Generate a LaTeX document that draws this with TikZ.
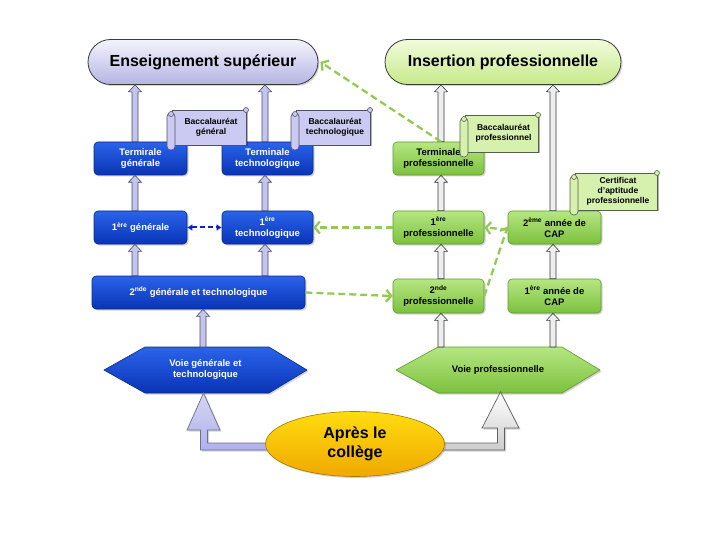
\documentclass[tikz,border=0pt]{standalone}
\usepackage{fontspec}
\setmainfont{Liberation Sans}
\usetikzlibrary{arrows.meta,shapes.misc,shapes.geometric,shadows,calc}
\definecolor{bluetop}{HTML}{2A63EA}
\definecolor{bluebot}{HTML}{0934B6}
\definecolor{blueedge}{HTML}{0A2C8C}
\definecolor{greentop}{HTML}{B6E682}
\definecolor{greenbot}{HTML}{7CC13E}
\definecolor{greenedge}{HTML}{5E9A2E}
\definecolor{lav}{HTML}{CACAF2}
\definecolor{lavdark}{HTML}{4A4A70}
\definecolor{lavfill}{HTML}{C4C4EC}
\definecolor{grayfill}{HTML}{EEEEEE}
\definecolor{graydark}{HTML}{3A3A3A}
\definecolor{scrgreen}{HTML}{D6F0AE}
\definecolor{gdash}{HTML}{94C954}
\definecolor{bdash}{HTML}{0A24C0}
\definecolor{yeltop}{HTML}{FFDC10}
\definecolor{yelbot}{HTML}{F0A800}
\definecolor{iptop}{HTML}{F2FBDC}
\definecolor{ipbot}{HTML}{C6EA8A}
\definecolor{estop}{HTML}{F4F4FC}
\definecolor{esbot}{HTML}{B4B4E4}
\tikzset{
  shad/.style={drop shadow={opacity=0.35, shadow xshift=1.5pt, shadow yshift=-1.5pt}},
  bbox/.style={shad, draw=blueedge, line width=0.6pt, rounded corners=4pt,
    top color=bluetop, bottom color=bluebot, text=white,
    font=\bfseries\fontsize{9.5}{11}\selectfont, align=center, inner sep=0pt},
  gbox/.style={shad, draw=greenedge, line width=0.6pt, rounded corners=4pt,
    top color=greentop, bottom color=greenbot, text=black,
    font=\bfseries\fontsize{9.5}{11}\selectfont, align=center, inner sep=0pt},
  headbox/.style={shad, rounded rectangle, draw=graydark, line width=0.8pt,
    font=\bfseries\fontsize{16}{19}\selectfont, inner sep=0pt},
  blkarrow/.style={line width=0.6pt, to path={let \p1=(\tikztostart), \p2=(\tikztotarget) in
    (\x1-3pt,\y1) -- (\x1-3pt,\y2-7pt) -- (\x1-6.5pt,\y2-7pt) -- (\x1,\y2)
    -- (\x1+6.5pt,\y2-7pt) -- (\x1+3pt,\y2-7pt) -- (\x1+3pt,\y1) -- cycle}},
  blkL/.style={blkarrow, draw=lavdark, fill=lavfill},
  blkR/.style={blkarrow, draw=graydark, fill=grayfill},
  gd/.style={draw=gdash, line width=2.3pt, dash pattern=on 7pt off 4pt,
    -{Straight Barb[length=5pt,width=12pt]}},
  scr/.style={line width=0.6pt},
  scrtext/.style={font=\bfseries\fontsize{8.5}{10}\selectfont, align=center, text=black},
}
\newcommand\myscroll[7]{%
  \fill[black,opacity=0.3] (#2+1.5,#3+1.5) rectangle (#4+1.5,#5+1.5);
  \draw[scr,draw=#6!40!black,fill=#6] (#2,#3) rectangle (#4,#5);
  \node[scrtext] (#1) at ({(#2+#4)/2+2},{(#3+#5)/2}) {#7};
  \draw[scr,draw=#6!40!black,fill=#6,rounded corners=3.5pt] (#2-5,#3+3) rectangle (#2+3,#5+5);
  \draw[scr,draw=#6!40!black,fill=#6] (#2-1,#3+4) circle (2.5pt);
  \draw[scr,draw=#6!40!black,fill=#6] (#4,#3) circle (2.5pt);
}
\begin{document}
\begin{tikzpicture}[x=1pt,y=-1pt]
\useasboundingbox[fill=white] (0,0) rectangle (720,540);
% column coordinates
\coordinate (cA) at (135,0);
\coordinate (cB) at (265,0);
\coordinate (cC) at (441,0);
\coordinate (cD) at (553,0);
\coordinate (vgtop) at (203,347);
\coordinate (vptopA) at (441,347);
\coordinate (vptopB) at (553,347);
% headers
\node[headbox, minimum width=230pt, minimum height=45pt, top color=estop, bottom color=esbot] (es) at (203,62) {Enseignement supérieur};
\node[headbox, minimum width=236pt, minimum height=45pt, top color=iptop, bottom color=ipbot] (ip) at (503,62) {Insertion professionnelle};
% boxes
\node[bbox, minimum width=93pt, minimum height=33pt] (tg) at (140.5,158.5) {Termirale\\générale};
\node[bbox, minimum width=91pt, minimum height=33pt] (tt) at (267.5,158.5) {Terminale\\technologique};
\node[bbox, minimum width=93pt, minimum height=33pt] (g1) at (140.5,227.5) {1\textsuperscript{ère} générale};
\node[bbox, minimum width=91pt, minimum height=33pt] (t1) at (267.5,227.5) {1\textsuperscript{ère}\\technologique};
\node[bbox, minimum width=213pt, minimum height=33pt] (g2) at (198.5,292.5) {2\textsuperscript{nde} générale et technologique};
\node[gbox, minimum width=91pt, minimum height=33pt] (tp) at (438.5,158.5) {Terminale\\professionnelle};
\node[gbox, minimum width=91pt, minimum height=33pt] (p1) at (438.5,227.5) {1\textsuperscript{ère}\\professionnelle};
\node[gbox, minimum width=93pt, minimum height=33pt] (cap2) at (554.5,227.5) {2\textsuperscript{ème} année de\\CAP};
\node[gbox, minimum width=91pt, minimum height=34pt] (p2) at (438.5,296) {2\textsuperscript{nde}\\professionnelle};
\node[gbox, minimum width=93pt, minimum height=34pt] (cap1) at (554.5,296) {1\textsuperscript{ère} année de\\CAP};
% hexagons
\path[shad, draw=blueedge, line width=0.6pt, top color=bluetop, bottom color=bluebot]
  (104,370) -- (145,347) -- (269,347) -- (307,370) -- (269,393) -- (145,393) -- cycle;
\node[text=white, font=\bfseries\fontsize{9.5}{11}\selectfont, align=center] (vg) at (205.5,370) {Voie générale et\\technologique};
\path[shad, draw=greenedge, line width=0.6pt, top color=greentop, bottom color=greenbot]
  (396,370) -- (438,347) -- (562,347) -- (600,370) -- (562,393) -- (438,393) -- cycle;
\node[text=black, font=\bfseries\fontsize{9.5}{11}\selectfont] (vp) at (498,370) {Voie professionnelle};
% block arrows
\draw[blkL] (tg.north -| cA) to (es.south);
\draw[blkL] (tt.north -| cB) to (es.south);
\draw[blkL] (g1.north -| cA) to (tg.south);
\draw[blkL] (t1.north -| cB) to (tt.south);
\draw[blkL] (g2.north -| cA) to (g1.south);
\draw[blkL] (g2.north -| cB) to (t1.south);
\draw[blkL] (vgtop) to (g2.south);
\draw[blkR] (tp.north -| cC) to (ip.south);
\draw[blkR] (p1.north -| cC) to (tp.south);
\draw[blkR] (p2.north -| cC) to (p1.south);
\draw[blkR] (vptopA) to (p2.south);
\draw[blkR] (cap2.north -| cD) to (ip.south);
\draw[blkR] (cap1.north -| cD) to (cap2.south);
\draw[blkR] (vptopB) to (cap1.south);
% scrolls
\myscroll{bg}{172}{110}{246}{145}{lav}{Baccalauréat\\général}
\myscroll{bt}{296}{110}{370}{145}{lav}{Baccalauréat\\technologique}
\myscroll{bp}{465}{115}{538}{152}{scrgreen}{Baccalauréat\\professionnel}
\myscroll{bc}{575}{173}{657}{210}{scrgreen}{Certificat\\d'aptitude\\professionnelle}
% dashed connectors
\draw[gd] (tp.north -| cC) -- ([xshift=2pt]es.east);
\draw[gd] (p1.west) -- (t1.east);
\draw[gd] (g2.east) -- (p2.west);
\draw[gd] (p2.east) -- ([yshift=1pt]cap2.west);
\draw[gd] ([yshift=-2pt]cap2.west) -- (p1.east);
\draw[draw=bdash, line width=2pt, dash pattern=on 5pt off 3pt,
  {Latex[length=5pt,width=7pt]}-{Latex[length=5pt,width=7pt]}] (g1.east) -- (t1.west);
% big arrows from the ellipse
\path[shad, draw=lavdark!80!white, line width=0.7pt, top color=lavfill!70!white, bottom color=lavfill!90!blue]
  (280,443) -- (207.5,443) -- (207.5,430) -- (220,430) -- (203.5,393) -- (187,430)
  -- (200.5,430) -- (200.5,450) -- (280,450) -- cycle;
\path[shad, draw=graydark!80!white, line width=0.7pt, top color=white, bottom color=gray!40]
  (430,443) -- (497.5,443) -- (497.5,428) -- (482,428) -- (500.5,392) -- (519,428)
  -- (504.5,428) -- (504.5,450) -- (430,450) -- cycle;
\node[shad, ellipse, draw=yelbot!70!black, line width=0.6pt, top color=yeltop, bottom color=yelbot,
  minimum width=179pt, minimum height=65pt, inner sep=0pt, align=center,
  font=\bfseries\fontsize{16}{19}\selectfont] (col) at (355,444) {Après le\\collège};
\end{tikzpicture}
\end{document}
